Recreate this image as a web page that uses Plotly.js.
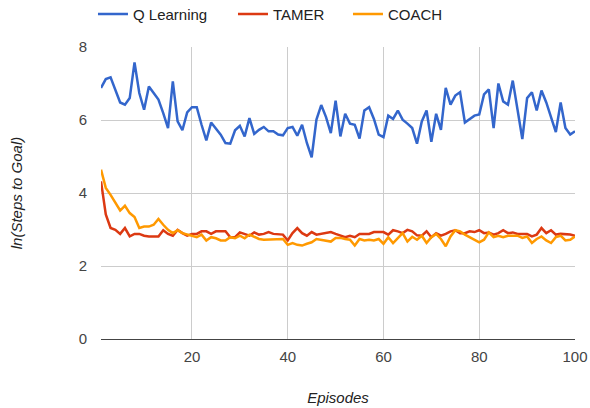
<!DOCTYPE html>
<html><head><meta charset="utf-8">
<script src="https://cdn.plot.ly/plotly-3.0.1.min.js"></script>
<style>html,body{margin:0;padding:0;background:#fff}#c{width:590px;height:408px}</style>
</head><body><div id="c"></div>
<script>
const episodes = Array.from({length:100},(_,i)=>i+1);
const qLearning = [6.88,7.12,7.17,6.83,6.48,6.42,6.60,7.58,6.74,6.28,
6.92,6.74,6.56,6.19,5.78,7.06,5.96,5.72,6.21,6.35,
6.35,5.87,5.44,5.93,5.78,5.60,5.37,5.35,5.72,5.84,
5.55,6.05,5.62,5.73,5.81,5.69,5.69,5.60,5.58,5.78,
5.81,5.57,5.87,5.37,4.98,6.01,6.41,6.08,5.64,6.53,
5.55,6.17,5.90,5.87,5.49,6.26,6.35,6.03,5.60,5.53,
6.12,6.03,6.26,6.01,5.90,5.78,5.35,5.96,6.26,5.40,
6.17,5.73,6.88,6.42,6.67,6.76,5.93,6.03,6.12,6.15,
6.70,6.84,5.78,7.00,6.51,6.42,7.08,6.28,5.48,6.60,
6.76,6.26,6.81,6.48,6.08,5.67,6.48,5.78,5.60,5.69];
const tamer = [4.32,3.41,3.04,2.99,2.88,3.04,2.81,2.88,2.88,2.83,
2.81,2.81,2.81,2.98,2.88,2.83,2.99,2.90,2.83,2.88,
2.88,2.95,2.95,2.88,2.95,2.95,2.95,2.79,2.79,2.92,
2.88,2.83,2.92,2.86,2.88,2.93,2.88,2.88,2.86,2.70,
2.90,3.04,2.90,2.83,2.93,2.86,2.88,2.90,2.93,2.88,
2.83,2.79,2.83,2.79,2.88,2.88,2.88,2.93,2.93,2.93,
2.86,2.98,2.95,2.90,2.99,2.95,2.84,2.83,2.95,2.79,
2.90,2.83,2.88,2.95,2.98,2.90,2.90,2.95,2.93,2.98,
2.90,2.92,2.86,2.90,2.98,2.90,2.92,2.88,2.88,2.88,
2.81,2.86,3.04,2.90,2.98,2.86,2.88,2.88,2.86,2.83];
const coach = [4.64,4.14,3.95,3.74,3.52,3.65,3.45,3.34,3.04,3.08,
3.08,3.13,3.29,3.13,2.99,2.90,2.98,2.90,2.86,2.83,
2.79,2.86,2.70,2.79,2.76,2.70,2.70,2.79,2.76,2.83,
2.76,2.86,2.79,2.74,2.72,2.72,2.72,2.72,2.74,2.58,
2.63,2.58,2.56,2.61,2.65,2.74,2.72,2.70,2.67,2.77,
2.77,2.74,2.72,2.56,2.74,2.70,2.72,2.70,2.74,2.61,
2.79,2.63,2.77,2.90,2.67,2.80,2.72,2.83,2.63,2.79,
2.88,2.74,2.54,2.81,2.98,2.95,2.86,2.79,2.70,2.65,
2.72,2.92,2.79,2.83,2.79,2.83,2.83,2.83,2.77,2.81,
2.63,2.74,2.81,2.70,2.63,2.79,2.83,2.70,2.72,2.81];
const xTicks = [20,40,60,80,100];
const yTicks = [0,2,4,6,8];

const mk = (y,name,color,lg)=>({x:episodes,y:y,name:name,type:'scatter',mode:'lines',
  line:{color:color,width:2.5},hoverinfo:'skip',legend:lg});
const data = [mk(qLearning,'Q Learning','#3366cc','legend'),
              mk(tamer,'TAMER','#dc3912','legend2'),
              mk(coach,'COACH','#ff9900','legend3')];
const lgBase = (x)=>({orientation:'h',xref:'container',yref:'container',x:x,xanchor:'left',
    y:0.965,yanchor:'middle',
    font:{size:15,color:'#222'},bgcolor:'rgba(0,0,0,0)',borderwidth:0});
const layout = {
  width:590,height:408,
  margin:{l:101,r:15,t:47,b:69,autoexpand:false},
  paper_bgcolor:'#fff',plot_bgcolor:'#fff',
  font:{family:'"Liberation Sans", Arial, sans-serif',size:15,color:'#444'},
  showlegend:true,
  legend:lgBase(0.1576),
  legend2:lgBase(0.3949),
  legend3:lgBase(0.5898),
  xaxis:{range:[1,100],tickvals:xTicks,ticktext:xTicks.map(String),showgrid:true,gridcolor:'#cccccc',
    gridwidth:1,zeroline:false,showline:false,ticks:'',ticklabelstandoff:7,
    tickfont:{size:15,color:'#444'},
    title:{text:'Episodes',font:{size:15,color:'#222',style:'italic'},standoff:28}},
  yaxis:{range:[0,8],tickvals:yTicks,showgrid:true,gridcolor:'#cccccc',gridwidth:1,
    zeroline:true,zerolinecolor:'#444444',zerolinewidth:1,showline:false,ticks:'',ticklabelstandoff:13,
    tickfont:{size:15,color:'#444'},
    title:{text:'ln(Steps to Goal)',font:{size:15,color:'#222',style:'italic'},standoff:52}}
};
Plotly.newPlot('c',data,layout,{displayModeBar:false,staticPlot:true});
</script></body></html>
